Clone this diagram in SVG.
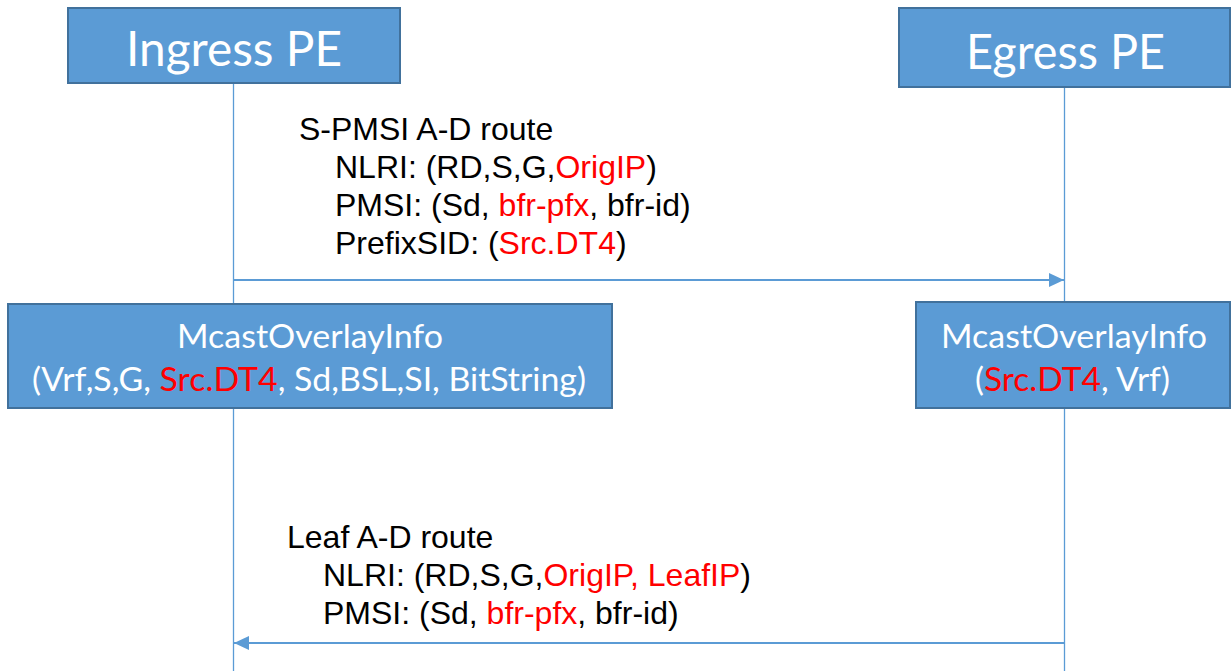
<svg xmlns="http://www.w3.org/2000/svg" width="1231" height="671" viewBox="0 0 1231 671">
  <style>
    .box { fill: #5B9BD5; stroke: #41719C; stroke-width: 2; }
    .btxt { font-family: Lato, "Open Sans", sans-serif; fill: #FFFFFF; text-anchor: middle; }
    .life { stroke: #5B9BD5; stroke-width: 1.3; fill: none; }
    .msg { stroke: #5B9BD5; stroke-width: 1.8; fill: none; }
    .lbl { font-family: "Liberation Sans", Arial, sans-serif; font-size: 32px; fill: #000000; }
    .red { fill: #FF0000; }
  </style>
  <defs>
    <marker id="arrow" viewBox="0 0 15 14" refX="15" refY="7" markerWidth="15" markerHeight="14" markerUnits="userSpaceOnUse" orient="auto">
      <path d="M0,0 L15,7 L0,14 Z" fill="#5B9BD5"/>
    </marker>
  </defs>

  <g id="lifelines">
    <line class="life" x1="233.5" y1="83" x2="233.5" y2="671"/>
    <line class="life" x1="1064.5" y1="88" x2="1064.5" y2="671"/>
  </g>

  <g id="connectors">
    <line class="msg" x1="233.5" y1="280" x2="1064" y2="280" marker-end="url(#arrow)"/>
    <line class="msg" x1="1064.5" y1="643" x2="234" y2="643" marker-end="url(#arrow)"/>
  </g>

  <g id="ingress-pe">
    <rect class="box" x="68" y="8" width="332" height="75"/>
    <text class="btxt" x="234" y="66" font-size="48" textLength="216" lengthAdjust="spacingAndGlyphs">Ingress PE</text>
  </g>

  <g id="egress-pe">
    <rect class="box" x="899" y="8" width="331" height="79"/>
    <text class="btxt" x="1065.5" y="69" font-size="48" textLength="199" lengthAdjust="spacingAndGlyphs">Egress PE</text>
  </g>

  <g id="ingress-overlay">
    <rect class="box" x="8" y="304" width="604" height="104"/>
    <text class="btxt" x="310" y="348" font-size="33" textLength="266" lengthAdjust="spacingAndGlyphs">McastOverlayInfo</text>
    <text class="btxt" x="309" y="391" font-size="33" textLength="554" lengthAdjust="spacingAndGlyphs">(Vrf,S,G, <tspan class="red">Src.DT4</tspan>, Sd,BSL,SI, BitString)</text>
  </g>

  <g id="egress-overlay">
    <rect class="box" x="916" y="302" width="314" height="106"/>
    <text class="btxt" x="1074" y="348" font-size="33" textLength="266" lengthAdjust="spacingAndGlyphs">McastOverlayInfo</text>
    <text class="btxt" x="1072.5" y="391" font-size="33" textLength="195" lengthAdjust="spacingAndGlyphs">(<tspan class="red">Src.DT4</tspan>, Vrf)</text>
  </g>

  <g id="spmsi-label">
    <text class="lbl" x="299" y="140">S-PMSI A-D route</text>
    <text class="lbl" x="335" y="178">NLRI: (RD,S,G,<tspan class="red">OrigIP</tspan>)</text>
    <text class="lbl" x="335" y="216">PMSI: (Sd, <tspan class="red">bfr-pfx</tspan>, bfr-id)</text>
    <text class="lbl" x="335" y="254">PrefixSID: (<tspan class="red">Src.DT4</tspan>)</text>
  </g>

  <g id="leaf-label">
    <text class="lbl" x="287" y="548">Leaf A-D route</text>
    <text class="lbl" x="323" y="586">NLRI: (RD,S,G,<tspan class="red">OrigIP, LeafIP</tspan>)</text>
    <text class="lbl" x="323" y="624">PMSI: (Sd, <tspan class="red">bfr-pfx</tspan>, bfr-id)</text>
  </g>
</svg>
